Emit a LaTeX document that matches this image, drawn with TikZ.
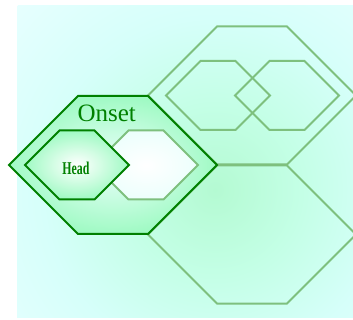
\documentclass[tikz,border=0pt]{standalone}
\usepackage{fontspec}
\setmainfont{Liberation Serif}
\definecolor{deepgreen}{RGB}{0,128,0}
\definecolor{palegreen}{RGB}{126,192,126}
\definecolor{bgmint}{RGB}{180,250,210}
\definecolor{bgsoft}{RGB}{196,255,230}
\definecolor{bgcyan}{RGB}{214,255,250}
\definecolor{bgpale}{RGB}{232,255,255}
\definecolor{bgfade}{RGB}{246,255,255}
\definecolor{cellmint}{RGB}{160,250,196}
\definecolor{cellcyan}{RGB}{236,255,252}

% soft glow behind the cells
\pgfdeclareradialshading{backglow}{\pgfpoint{0bp}{0bp}}{%
  color(0bp)=(bgmint); color(8bp)=(bgsoft); color(16bp)=(bgcyan);
  color(26bp)=(bgpale); color(50bp)=(bgfade)}

% flat hexagon: centre x, centre y, scale
\newcommand{\hexa}[3]{(#1-104*#3,#2) -- ++(69*#3,-69*#3) -- ++(70*#3,0)
  -- ++(69*#3,69*#3) -- ++(-69*#3,69*#3) -- ++(-70*#3,0) -- cycle}

\begin{document}
\begin{tikzpicture}[x=1pt,y=-1pt,
    outline/.style={draw=palegreen, line width=2pt, line join=miter},
    framed/.style={draw=deepgreen, line width=2pt, line join=miter},
    glow/.style={inner color=cellcyan, outer color=cellmint},
    label/.style={text=deepgreen, inner sep=0pt, anchor=base}
  ]
  \useasboundingbox (0,0) rectangle (353,320);

  % background
  \begin{scope}
    \clip (17,6) rectangle (353,317);
    \shade[shading=backglow] (215,190) circle (270);
  \end{scope}

  % outer cells on the right
  \draw[outline] \hexa{252}{95.5}{1};
  \draw[outline] \hexa{252}{234.5}{1};
  \draw[outline] \hexa{218}{95.5}{0.5};
  \draw[outline] \hexa{287}{95.5}{0.5};

  % onset cell
  \shade[glow] \hexa{113}{165}{1};
  \draw[framed] \hexa{113}{165}{1};

  % inner cells
  \shade[inner color=white, outer color=cellcyan] \hexa{146}{165}{0.5};
  \draw[outline] \hexa{146}{165}{0.5};
  \shade[inner color=white, outer color=cellmint] \hexa{77}{165}{0.5};
  \draw[framed] \hexa{77}{165}{0.5};

  % labels
  \node[label, font=\fontsize{25}{25}\selectfont] (onset) at (106.7,121.7) {Onset};
  \node[label, font=\bfseries\fontsize{18}{18}\selectfont, xscale=0.66] (head) at (76,175) {Head};
\end{tikzpicture}
\end{document}
